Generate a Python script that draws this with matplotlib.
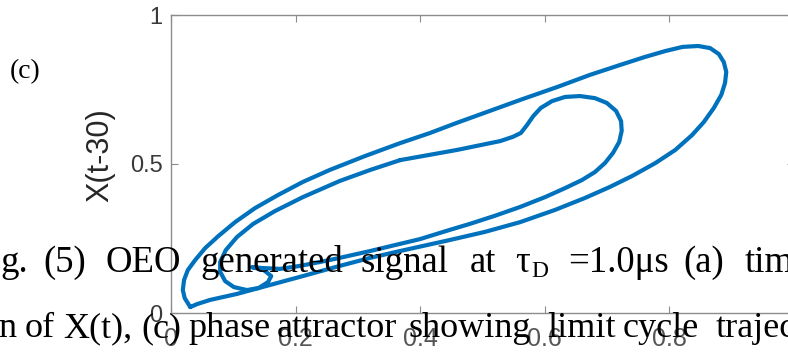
import numpy as np
import matplotlib.pyplot as plt

W, H = 788, 360

# phase attractor: X(t) against X(t-30), outer loop of the limit cycle
outer_x = [0.031, 0.022, 0.019, 0.021, 0.027, 0.039, 0.055, 0.076, 0.103, 0.135,
           0.172, 0.212, 0.255, 0.312, 0.368, 0.416, 0.459, 0.512, 0.565, 0.620,
           0.673, 0.721, 0.761, 0.794, 0.822, 0.847, 0.866, 0.880, 0.888, 0.892,
           0.890, 0.884, 0.872, 0.856, 0.837, 0.810, 0.778, 0.741, 0.705, 0.665,
           0.617, 0.561, 0.504, 0.448, 0.368, 0.320, 0.271, 0.212, 0.159, 0.106,
           0.063, 0.042, 0.031]
outer_y = [0.020, 0.050, 0.077, 0.111, 0.144, 0.178, 0.218, 0.258, 0.305, 0.352,
           0.396, 0.440, 0.480, 0.527, 0.570, 0.604, 0.638, 0.678, 0.718, 0.758,
           0.799, 0.832, 0.859, 0.879, 0.893, 0.896, 0.889, 0.869, 0.842, 0.809,
           0.772, 0.732, 0.688, 0.641, 0.597, 0.547, 0.503, 0.460, 0.423, 0.386,
           0.346, 0.305, 0.272, 0.245, 0.208, 0.185, 0.158, 0.124, 0.094, 0.064,
           0.044, 0.030, 0.020]

# inner loop with the hook near (0.6, 0.7) and the small curl near (0.12, 0.1)
inner_x = [0.368, 0.459, 0.529, 0.549, 0.562, 0.572, 0.582, 0.594, 0.612, 0.633,
           0.657, 0.681, 0.700, 0.715, 0.723, 0.724, 0.720, 0.710, 0.697, 0.681,
           0.660, 0.633, 0.601, 0.561, 0.520, 0.480, 0.448, 0.400, 0.368, 0.320,
           0.271, 0.239, 0.207, 0.175, 0.146, 0.130, 0.149, 0.161, 0.156, 0.141,
           0.122, 0.101, 0.087, 0.079, 0.079, 0.088, 0.106, 0.132, 0.167, 0.212,
           0.271, 0.320, 0.368]
inner_y = [0.513, 0.547, 0.577, 0.591, 0.604, 0.631, 0.661, 0.688, 0.711, 0.725,
           0.728, 0.721, 0.705, 0.678, 0.644, 0.611, 0.574, 0.537, 0.503, 0.473,
           0.446, 0.419, 0.389, 0.356, 0.326, 0.299, 0.279, 0.248, 0.232, 0.208,
           0.185, 0.171, 0.158, 0.148, 0.151, 0.154, 0.144, 0.124, 0.104, 0.084,
           0.077, 0.087, 0.107, 0.138, 0.171, 0.211, 0.255, 0.299, 0.342, 0.389,
           0.443, 0.480, 0.513]

x_ticks = [0, 0.2, 0.4, 0.6, 0.8, 1.0]
x_tick_labels = ['0', '0.2', '0.4', '0.6', '0.8', '1']
y_ticks = [0, 0.5, 1.0]
y_tick_labels = ['0', '0.5', '1']

# caption words, both lines are justified so each word gets its own x
caption1 = [('g.', 0), ('(5)', 43), ('OEO', 105), ('generated', 200), ('signal', 360),
            ('at', 470), ('\u03c4', 515), ('=1.0\u03bcs', 568), ('(a)', 683), ('tim', 745)]
caption2 = [('n', -2), ('of', 25), ('X(t),', 63), ('(c)', 141), ('phase', 188),
            ('attractor', 277), ('showing', 408), ('limit', 547), ('cycle', 623),
            ('trajec', 716)]


def px(x, y):
    return x / W, 1 - y / H


fig = plt.figure(figsize=(W / 100, H / 100), dpi=100)
ax = fig.add_axes([171 / W, 47 / H, 622.5 / W, 298 / H])

blue = '#0072BD'
ax.plot(outer_x, outer_y, color=blue, lw=3.0, solid_joinstyle='round', solid_capstyle='round')
ax.plot(inner_x, inner_y, color=blue, lw=3.0, solid_joinstyle='round', solid_capstyle='round')

ax.set_xlim(0, 1)
ax.set_ylim(0, 1)
ax.set_xticks(x_ticks, x_tick_labels)
ax.set_yticks(y_ticks, y_tick_labels)
for s in ax.spines.values():
    s.set_color('#8c8c8c')
    s.set_linewidth(1.0)
ax.tick_params(direction='in', length=5, width=0.8, color='#8c8c8c',
               top=True, right=True, labelcolor='#3a3a3a')
ax.tick_params(axis='y', labelsize=17, pad=6)
ax.tick_params(axis='x', labelsize=18, pad=10, labelcolor='#555555')
for lab in ax.get_xticklabels() + ax.get_yticklabels():
    lab.set_family('Liberation Sans')

ax.set_ylabel('X(t-30)', fontsize=22, family='Liberation Sans', color='#262626')
ax.yaxis.set_label_coords((115 - 171) / 622.5, 0.53)

fig.text(*px(10, 78), '(c)', fontsize=20, family='Liberation Serif', va='baseline')

for word, x in caption1:
    fig.text(*px(x, 272), word, fontsize=26.5, family='Liberation Serif', va='baseline')
fig.text(*px(531, 277), 'D', fontsize=17, family='Liberation Serif', va='baseline')
for word, x in caption2:
    fig.text(*px(x, 337), word, fontsize=26, family='Liberation Serif', va='baseline')

fig.savefig('out.png', dpi=100)
